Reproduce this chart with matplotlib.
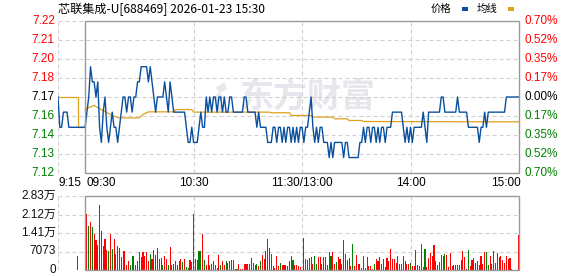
import numpy as np
import matplotlib
matplotlib.use("Agg")
import matplotlib.pyplot as plt
from matplotlib.patches import Rectangle, Wedge

plt.rcParams['font.family'] = ['Liberation Sans', 'Noto Sans CJK SC']

title = '芯联集成-U[688469] 2026-01-23 15:30'
prev_close = 7.17
pct_range = 0.007

price_labels = ['7.12', '7.13', '7.14', '7.16', '7.17', '7.18', '7.20', '7.21', '7.22']
pct_labels = ['0.70%', '0.52%', '0.35%', '0.17%', '0.00%', '0.17%', '0.35%', '0.52%', '0.70%']
time_labels = ['9:15', '09:30', '10:30', '11:30/13:00', '14:00', '15:00']
time_pos = [-15, 0, 60, 120, 180, 240]
vol_labels = ['0', '7073', '1.41万', '2.12万', '2.83万']
vol_max = 28292

# call auction 9:15-9:30 (minutes before the open)
pre_min = list(range(-15, 1))
pre_price = [717, 715, 715, 716, 716, 716, 715, 715, 715, 715, 715, 715, 715, 715, 715, 715]
pre_avg_min = [-15, -4, -4, 0]
pre_avg = [7.17, 7.17, 7.15, 7.15]
pre_vol_min = [-4]
pre_vol = [5535]

# minute prices in cents, 9:30 .. 15:00 (241 points)
price = [
    715, 716, 717, 719, 718, 718, 717, 718, 715, 714, 716, 717, 715, 714, 715, 716, 715, 715, 714, 715,
    716, 717, 717, 716, 717, 717, 716, 717, 717, 718, 718, 719, 719, 719, 719, 718, 719, 718, 717, 716,
    717, 717, 717, 717, 718, 717, 716, 718, 717, 716, 716, 716, 716, 716, 716, 716, 715, 714, 714, 715,
    714, 714, 714, 715, 716, 715, 715, 717, 716, 717, 716, 717, 717, 716, 717, 717, 716, 717, 716, 716,
    717, 717, 716, 716, 716, 716, 716, 716, 717, 717, 716, 716, 716, 716, 716, 715, 716, 715, 715, 715,
    715, 714, 714, 714, 715, 715, 714, 715, 715, 714, 715, 714, 715, 715, 714, 715, 714, 715, 714, 715,
    715, 714, 715, 715, 716, 717, 715, 714, 715, 714, 715, 715, 714, 714, 714, 713, 714, 713, 714, 714,
    714, 714, 714, 713, 714, 714, 713, 713, 713, 713, 713, 713, 714, 714, 715, 714, 715, 715, 714, 715,
    715, 714, 715, 714, 715, 715, 714, 715, 715, 715, 716, 716, 716, 716, 716, 716, 715, 714, 715, 714,
    715, 714, 715, 715, 715, 715, 715, 716, 715, 714, 716, 716, 716, 716, 716, 716, 716, 717, 717, 716,
    716, 716, 716, 716, 716, 716, 717, 716, 716, 716, 716, 716, 715, 715, 715, 715, 715, 715, 714, 715,
    715, 716, 715, 716, 716, 716, 716, 716, 716, 716, 716, 716, 716, 717, 717, 717, 717, 717, 717, 717,
    717,
]

# average price line, read at its bends
avg_min = [0, 2, 5, 9, 12, 16, 19, 30, 32, 35, 49, 50, 59, 60, 102, 103, 113, 114,
           125, 126, 137, 138, 145, 146, 153, 154, 240]
avg_val = [7.1617, 7.1630, 7.1644, 7.1617, 7.1596, 7.1573, 7.1562, 7.1562, 7.1585, 7.1602,
           7.1602, 7.1617, 7.1617, 7.1600, 7.1600, 7.1596, 7.1596, 7.1578, 7.1578, 7.1567,
           7.1567, 7.1556, 7.1556, 7.1545, 7.1545, 7.1538, 7.1536]

# minute volume (shares), 9:30 .. 15:00
vol = [
    0, 21280, 16850, 18450, 16600, 13776, 11440, 9594, 24970, 14760, 9225, 11685, 7750, 7134, 13776, 8118, 11685, 6150, 9225, 8241,
    4920, 7134, 7380, 2091, 3321, 2091, 5535, 5166, 2091, 3321, 7011, 4920, 6765, 5166, 7011, 3321, 6150, 4059, 7626, 5904,
    8487, 4059, 4551, 1845, 5289, 4305, 2091, 8856, 2091, 2460, 3321, 2091, 3321, 4059, 3075, 4059, 1230, 615, 3690, 3075,
    21280, 4059, 3690, 7380, 7380, 13776, 3690, 1845, 5781, 1845, 2337, 3321, 1845, 615, 5904, 1845, 3321, 2091, 3321, 2829,
    3567, 3690, 3690, 369, 369, 2214, 369, 369, 2460, 2214, 2214, 2214, 4428, 2829, 1845, 2460, 1599, 3321, 5904, 4305,
    7380, 11931, 8241, 6150, 1476, 861, 5535, 1476, 2583, 2091, 1845, 1845, 1599, 3321, 5166, 3813, 1845, 2091, 1599, 1230,
    0, 12300, 4059, 3690, 4551, 4920, 2460, 5166, 2460, 4797, 4797, 2460, 4797, 4797, 1845, 6765, 5166, 6765, 2460, 3075,
    4797, 4059, 2460, 11440, 6150, 3690, 4551, 1476, 10086, 1476, 5904, 2214, 2214, 615, 5166, 861, 4797, 1476, 1476, 369,
    2460, 4059, 3321, 4797, 2214, 4059, 1230, 4551, 3321, 7995, 4305, 4305, 2829, 5535, 2460, 2214, 5535, 3321, 2460, 2214,
    2829, 1476, 1476, 7750, 2091, 1476, 9840, 1230, 7995, 1230, 4551, 6519, 5535, 9471, 3321, 1845, 3075, 5904, 5535, 6150,
    5781, 1230, 6642, 1476, 2091, 2091, 2091, 1845, 3690, 7380, 4797, 369, 7750, 1476, 3690, 4551, 2829, 3321, 1845, 5535,
    2337, 7011, 7011, 2091, 5535, 2214, 7380, 2829, 6519, 4920, 5166, 3690, 2829, 5166, 4059, 4551, 369, 0, 0, 0,
    13284,
]
# r = up minute, g = down minute, - = no trade
side = ("-rgrgrrggrrrrgrgrrgr" "rgrrrggrgrrrrrrrgrgg" "grrgrrgrgrrrrrgrggrg" "rgrggrgrrgrrrgrgrrgg"
        "rggggrrrrrrrrrrgrgrr" "rgrrrrrrgrrggrrgrrrr" "-grrrrrggrrrrgrggrrg" "rrgrgrrrgrrrrrrrgrrr"
        "grrrrgrrrrrrrrrgrgrr" "grrrrrrrgrrrrrrrrrrg" "rrrrrrrgrrrrgrrrrgrr" "rrggrrrrrrrrrrrrg---" "r")

RED, GREEN, BLUE, GOLD = '#ff0000', '#008000', '#0a4f9e', '#e0a21a'
GRID, BOX = '#d0d0d0', '#9a9a9a'
WM = '#e6e6ec'
DASH = (0, (3.6, 2.7))

W, H = 578, 276
fig = plt.figure(figsize=(W / 100, H / 100), dpi=100)
ax = fig.add_axes([58 / W, 1 - 173 / H, 461 / W, 152 / H])
vx = fig.add_axes([58 / W, 1 - 270 / H, 461 / W, 74 / H])

ymin, ymax = prev_close * (1 - pct_range), prev_close * (1 + pct_range)
levels = np.linspace(ymin, ymax, len(price_labels))

# ---- price panel
ax.set_xlim(-15, 240)
ax.set_ylim(ymin, ymax)
ax.axis('off')
for y in levels:
    ax.axhline(y, color=GRID, lw=0.8, ls=DASH, zorder=1)
for x in [-15, 60, 120, 180]:
    ax.axvline(x, color=GRID, lw=0.8, ls=DASH, zorder=1)
ax.add_patch(Rectangle((0, ymin), 240, ymax - ymin, fill=False, ec=BOX, lw=1.0,
                       zorder=4, clip_on=False))

# watermark: rough fan logo + name
for r, t1, t2 in [(36, 112, 128), (30, 128, 146), (24, 146, 166)]:
    fig.add_artist(Wedge((238 / W * W, (H - 116)), r, t1, t2, width=7,
                         transform=None, color=WM, lw=0, zorder=0))
ax.text((240 - 58) / 461, (173 - 97) / 152, '东方财富', transform=ax.transAxes,
        family='Noto Sans CJK SC', fontsize=24.5, fontweight='bold', color=WM,
        ha='left', va='center', zorder=0)

mins = np.arange(len(price))
ax.plot(pre_min, np.array(pre_price) / 100, color=BLUE, lw=1.0, zorder=3)
ax.plot(pre_avg_min, pre_avg, color=GOLD, lw=0.9, zorder=2)
ax.plot(mins, np.array(price) / 100, color=BLUE, lw=1.0, zorder=3)
ax.plot(avg_min, avg_val, color=GOLD, lw=0.9, zorder=2)

ytr = ax.get_yaxis_transform()
mid = len(price_labels) // 2
for i, (y, pl, cl) in enumerate(zip(levels, price_labels, pct_labels)):
    c = RED if i > mid else ('black' if i == mid else GREEN)
    ax.text(-0.007, y, pl, transform=ytr, ha='right', va='center', fontsize=8.5, color=c)
    ax.text(1.011, y, cl, transform=ytr, ha='left', va='center', fontsize=8.5, color=c)

xtr = ax.get_xaxis_transform()
aligns = ['left', 'left', 'center', 'center', 'center', 'right']
shift = [0, 0.6, 0, 0, 0, 1]
for t, p, a, s in zip(time_labels, time_pos, aligns, shift):
    ax.text(p + s, -0.068, t, transform=xtr, ha=a, va='center', fontsize=8.5, color='black')

# ---- volume panel
vx.set_xlim(-15, 240)
vx.set_ylim(0, vol_max)
vx.axis('off')
vlev = np.linspace(0, vol_max, len(vol_labels))
for y in vlev:
    vx.axhline(y, color=GRID, lw=0.8, ls=DASH, zorder=1)
for x in [-15, 60, 120, 180]:
    vx.axvline(x, color=GRID, lw=0.8, ls=DASH, zorder=1)
vx.add_patch(Rectangle((0, 0), 240, vol_max, fill=False, ec=BOX, lw=1.0,
                       zorder=4, clip_on=False))

cmap = {'r': RED, 'g': GREEN}
vm = [m for m in mins if side[m] != '-']
vx.bar(vm, [vol[m] for m in vm], width=0.6, color=[cmap[side[m]] for m in vm],
       linewidth=0, zorder=3)
vx.bar(pre_vol_min, pre_vol, width=0.6, color=GREEN, linewidth=0, zorder=3)

vtr = vx.get_yaxis_transform()
for y, lab in zip(vlev, vol_labels):
    vx.text(-0.004, y, lab, transform=vtr, ha='right', va='center', fontsize=8.5, color='#111111')

# ---- header
fig.text(58 / W, 1 - 9 / H, title, family='Noto Sans CJK SC', fontsize=8.7,
         ha='left', va='center', color='black')
fig.text(431 / W, 1 - 9 / H, '价格', family='Noto Sans CJK SC', fontsize=7.5,
         ha='left', va='center', color='black')
fig.text(477 / W, 1 - 9 / H, '均线', family='Noto Sans CJK SC', fontsize=7.5,
         ha='left', va='center', color='black')
fig.add_artist(Rectangle((462 / W, 1 - 10.5 / H), 5.5 / W, 3 / H, transform=fig.transFigure,
                         color=BLUE, lw=0))
fig.add_artist(Rectangle((508 / W, 1 - 10.5 / H), 5.5 / W, 3 / H, transform=fig.transFigure,
                         color=GOLD, lw=0))

fig.savefig('out.png', dpi=100)
